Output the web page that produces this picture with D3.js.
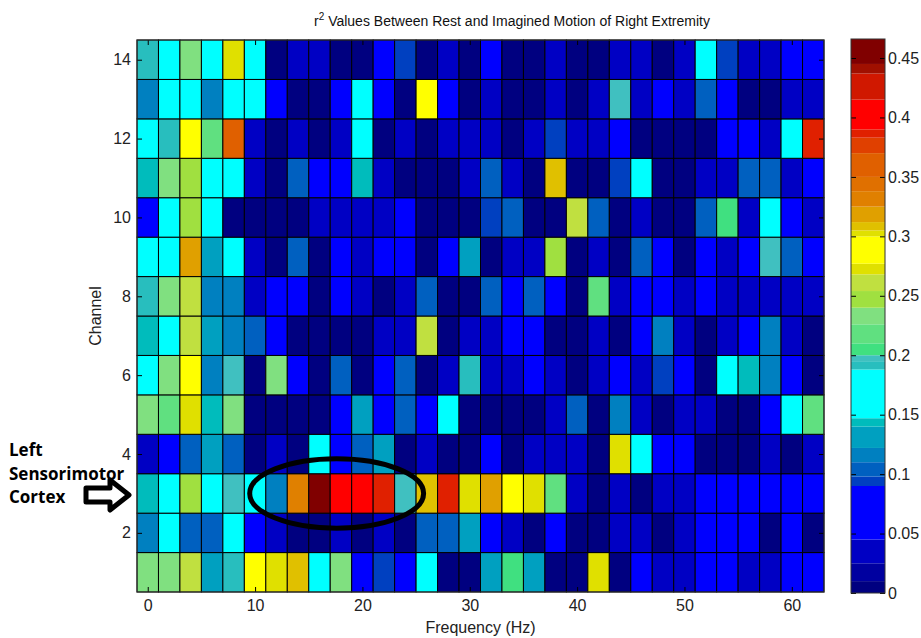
<!DOCTYPE html>
<html>
<head>
<meta charset="utf-8">
<script src="https://cdn.jsdelivr.net/npm/d3@7"></script>
<style>
  body { margin: 0; background: #fff; }
  svg { display: block; font-family: "Liberation Sans", Arial, sans-serif; }
</style>
</head>
<body>
<main></main>
<script>
// Frequency bins (Hz) and channel numbers.
const frequencies = [0, 2, 4, 6, 8, 10, 12, 14, 16, 18, 20, 22, 24, 26, 28, 30,
  32, 34, 36, 38, 40, 42, 44, 46, 48, 50, 52, 54, 56, 58, 60, 62];
const channels = [1, 2, 3, 4, 5, 6, 7, 8, 9, 10, 11, 12, 13, 14];

// r^2 per channel, one value per frequency bin.
const ch14 = [0.191, 0.168, 0.232, 0.171, 0.272, 0.163, 0.004, 0.033, 0.036, 0.006, 0.005, 0.062, 0.094, 0.003, 0.034, 0.007,
  0.066, 0.005, 0.006, 0.037, 0.004, 0.006, 0.032, 0.035, 0.005, 0.036, 0.170, 0.093, 0.031, 0.034, 0.061, 0.064];
const ch13 = [0.116, 0.166, 0.172, 0.114, 0.169, 0.161, 0.063, 0.005, 0.004, 0.067, 0.164, 0.060, 0.006, 0.289, 0.065, 0.007,
  0.034, 0.005, 0.004, 0.036, 0.006, 0.033, 0.197, 0.035, 0.068, 0.032, 0.103, 0.063, 0.005, 0.003, 0.031, 0.033];
const ch12 = [0.167, 0.190, 0.290, 0.219, 0.362, 0.036, 0.005, 0.033, 0.006, 0.037, 0.162, 0.005, 0.034, 0.004, 0.035, 0.038,
  0.036, 0.005, 0.033, 0.093, 0.035, 0.037, 0.064, 0.006, 0.004, 0.005, 0.006, 0.062, 0.066, 0.034, 0.168, 0.387];
const ch11 = [0.143, 0.235, 0.248, 0.170, 0.166, 0.034, 0.004, 0.104, 0.065, 0.061, 0.143, 0.036, 0.005, 0.004, 0.006, 0.033,
  0.104, 0.035, 0.005, 0.307, 0.004, 0.006, 0.093, 0.167, 0.005, 0.004, 0.034, 0.037, 0.105, 0.103, 0.033, 0.066];
const ch10 = [0.067, 0.171, 0.247, 0.165, 0.004, 0.005, 0.006, 0.004, 0.034, 0.036, 0.035, 0.037, 0.064, 0.005, 0.004, 0.006,
  0.094, 0.102, 0.005, 0.004, 0.262, 0.104, 0.006, 0.035, 0.004, 0.005, 0.103, 0.206, 0.034, 0.169, 0.063, 0.035];
const ch9 = [0.167, 0.164, 0.318, 0.131, 0.170, 0.035, 0.005, 0.105, 0.004, 0.066, 0.036, 0.063, 0.067, 0.005, 0.062, 0.132,
  0.005, 0.035, 0.036, 0.248, 0.004, 0.034, 0.005, 0.104, 0.065, 0.006, 0.066, 0.033, 0.064, 0.197, 0.103, 0.065];
const ch8 = [0.192, 0.234, 0.262, 0.115, 0.116, 0.034, 0.064, 0.066, 0.005, 0.063, 0.035, 0.006, 0.034, 0.103, 0.004, 0.005,
  0.104, 0.065, 0.105, 0.067, 0.005, 0.219, 0.036, 0.063, 0.066, 0.034, 0.062, 0.035, 0.037, 0.033, 0.036, 0.034];
const ch7 = [0.143, 0.166, 0.261, 0.129, 0.116, 0.104, 0.065, 0.005, 0.004, 0.006, 0.005, 0.035, 0.033, 0.262, 0.004, 0.036,
  0.034, 0.064, 0.066, 0.005, 0.004, 0.036, 0.006, 0.063, 0.116, 0.035, 0.005, 0.034, 0.065, 0.114, 0.033, 0.005];
const ch6 = [0.163, 0.233, 0.290, 0.115, 0.197, 0.004, 0.232, 0.064, 0.005, 0.103, 0.006, 0.066, 0.104, 0.005, 0.035, 0.190,
  0.034, 0.036, 0.064, 0.035, 0.004, 0.033, 0.066, 0.036, 0.093, 0.065, 0.005, 0.167, 0.143, 0.115, 0.063, 0.005];
const ch5 = [0.234, 0.218, 0.271, 0.143, 0.233, 0.004, 0.005, 0.006, 0.004, 0.064, 0.131, 0.066, 0.104, 0.063, 0.168, 0.005,
  0.004, 0.006, 0.005, 0.034, 0.103, 0.005, 0.116, 0.035, 0.004, 0.036, 0.034, 0.005, 0.006, 0.065, 0.170, 0.219];
const ch4 = [0.034, 0.065, 0.104, 0.130, 0.103, 0.005, 0.035, 0.004, 0.166, 0.064, 0.105, 0.131, 0.005, 0.034, 0.006, 0.004,
  0.066, 0.005, 0.036, 0.034, 0.035, 0.005, 0.271, 0.168, 0.064, 0.063, 0.005, 0.004, 0.006, 0.035, 0.005, 0.036];
const ch3 = [0.143, 0.169, 0.248, 0.167, 0.197, 0.164, 0.116, 0.331, 0.460, 0.404, 0.401, 0.387, 0.197, 0.307, 0.386, 0.272,
  0.319, 0.290, 0.271, 0.218, 0.035, 0.005, 0.034, 0.004, 0.036, 0.035, 0.064, 0.066, 0.063, 0.065, 0.067, 0.064];
const ch2 = [0.115, 0.167, 0.104, 0.103, 0.165, 0.064, 0.034, 0.005, 0.004, 0.036, 0.005, 0.035, 0.006, 0.104, 0.103, 0.131,
  0.065, 0.034, 0.005, 0.063, 0.004, 0.006, 0.035, 0.036, 0.005, 0.034, 0.066, 0.064, 0.065, 0.005, 0.063, 0.004];
const ch1 = [0.233, 0.234, 0.261, 0.130, 0.191, 0.289, 0.271, 0.308, 0.166, 0.232, 0.064, 0.093, 0.066, 0.168, 0.005, 0.004,
  0.131, 0.206, 0.130, 0.005, 0.004, 0.270, 0.005, 0.064, 0.034, 0.036, 0.065, 0.063, 0.035, 0.034, 0.066, 0.064];
const rows = [ch1, ch2, ch3, ch4, ch5, ch6, ch7, ch8, ch9, ch10, ch11, ch12, ch13, ch14];

const xTicks = [0, 10, 20, 30, 40, 50, 60];
const yTicks = [2, 4, 6, 8, 10, 12, 14];
const colorTicks = [0, 0.05, 0.1, 0.15, 0.2, 0.25, 0.3, 0.35, 0.4, 0.45];
const colorTickLabels = ["0", "0.05", "0.1", "0.15", "0.2", "0.25", "0.3", "0.35", "0.4", "0.45"];
const C_MAX = 0.466;

// Jet-like banded palette, as the picture renders it.
const bandBreaks = [0.01, 0.025, 0.045, 0.09, 0.098, 0.11, 0.122, 0.14, 0.147, 0.188, 0.195, 0.2,
  0.21, 0.226, 0.24, 0.254, 0.268, 0.277, 0.3, 0.305, 0.312, 0.325, 0.338, 0.35, 0.37, 0.383,
  0.39, 0.415, 0.437, 0.445];
const bandColors = ["#000080", "#0000a0", "#0000c4", "#0000ff", "#0040c0", "#0060c0", "#0080c0",
  "#00a0c0", "#00bcbc", "#00ffff", "#28bebe", "#40c0c0", "#40e080", "#60e080", "#80e080",
  "#a0e040", "#c0e040", "#e0e000", "#ffff00", "#e0e000", "#e0c000", "#e0a000", "#e08000",
  "#e07000", "#e06000", "#e04000", "#e02000", "#ff0000", "#d01800", "#a01000", "#800000"];

const W = 921, H = 638;
const svg = d3.create("svg").attr("width", W).attr("height", H);
document.querySelector("main").append(svg.node());

const x = d3.scaleLinear().domain([-1, 63]).range([137, 824]);
const y = d3.scaleLinear().domain([0.5, 14.5]).range([592, 40]);
const color = d3.scaleThreshold().domain(bandBreaks).range(bandColors);

const cells = [];
channels.forEach((c, i) => {
  frequencies.forEach((f, j) => cells.push({ f, c, v: rows[i][j] }));
});

svg.append("g")
  .selectAll("rect")
  .data(cells)
  .join("rect")
  .attr("x", (d) => x(d.f - 1))
  .attr("y", (d) => y(d.c + 0.5))
  .attr("width", (d) => x(d.f + 1) - x(d.f - 1))
  .attr("height", (d) => y(d.c - 0.5) - y(d.c + 0.5))
  .attr("fill", (d) => color(d.v))
  .attr("stroke", "#000")
  .attr("stroke-width", 1);

// Axes with inward ticks, MATLAB style.
const axisFont = (g) => g.selectAll("text").attr("font-size", 16).attr("fill", "#222");
svg.append("g")
  .attr("transform", `translate(0,${y.range()[0]})`)
  .call(d3.axisBottom(x).tickValues(xTicks).tickSize(-5).tickPadding(8))
  .call((g) => g.select(".domain").remove())
  .call(axisFont);
svg.append("g")
  .attr("transform", `translate(${x.range()[0]},0)`)
  .call(d3.axisLeft(y).tickValues(yTicks).tickSize(-5).tickPadding(6))
  .call((g) => g.select(".domain").remove())
  .call(axisFont);
svg.append("g")
  .attr("transform", `translate(0,${y.range()[1]})`)
  .call(d3.axisTop(x).tickValues(xTicks).tickSize(-5).tickFormat(""))
  .call((g) => g.select(".domain").remove());
svg.append("g")
  .attr("transform", `translate(${x.range()[1]},0)`)
  .call(d3.axisRight(y).tickValues(yTicks).tickSize(-5).tickFormat(""))
  .call((g) => g.select(".domain").remove());

svg.append("rect")
  .attr("x", x.range()[0]).attr("y", y.range()[1])
  .attr("width", x.range()[1] - x.range()[0])
  .attr("height", y.range()[0] - y.range()[1])
  .attr("fill", "none").attr("stroke", "#333").attr("stroke-width", 1);

// Title
const title = svg.append("text")
  .attr("x", 512)
  .attr("y", 26)
  .attr("text-anchor", "middle")
  .attr("font-size", 14)
  .attr("fill", "#111");
title.append("tspan").text("r");
title.append("tspan").attr("dy", -6).attr("font-size", 10).text("2");
title.append("tspan").attr("dy", 6).text(" Values Between Rest and Imagined Motion of Right Extremity");

svg.append("text")
  .attr("x", (x.range()[0] + x.range()[1]) / 2)
  .attr("y", 633)
  .attr("text-anchor", "middle")
  .attr("font-size", 16)
  .attr("fill", "#222")
  .text("Frequency (Hz)");

svg.append("text")
  .attr("transform", `translate(101,${(y.range()[0] + y.range()[1]) / 2}) rotate(-90)`)
  .attr("text-anchor", "middle")
  .attr("font-size", 16)
  .attr("fill", "#222")
  .text("Channel");

// Colorbar
const cy = d3.scaleLinear().domain([0, C_MAX]).range([593, 39]);
const CB_X0 = 851, CB_X1 = 885;
const bands = bandColors.map((col, i) => ({
  lo: i === 0 ? 0 : bandBreaks[i - 1],
  hi: i === bandBreaks.length ? C_MAX : bandBreaks[i],
  col,
}));
svg.append("g")
  .selectAll("rect")
  .data(bands)
  .join("rect")
  .attr("x", CB_X0)
  .attr("y", (d) => cy(d.hi))
  .attr("width", CB_X1 - CB_X0)
  .attr("height", (d) => cy(d.lo) - cy(d.hi))
  .attr("fill", (d) => d.col);

svg.append("g")
  .attr("transform", `translate(${CB_X1},0)`)
  .call(d3.axisRight(cy).tickValues(colorTicks).tickSize(-5).tickPadding(3)
    .tickFormat((d, i) => colorTickLabels[i]))
  .call((g) => g.select(".domain").remove())
  .call(axisFont);
svg.append("g")
  .attr("transform", `translate(${CB_X0},0)`)
  .call(d3.axisLeft(cy).tickValues(colorTicks).tickSize(-5).tickFormat(""))
  .call((g) => g.select(".domain").remove());
svg.append("rect")
  .attr("x", CB_X0).attr("y", cy.range()[1])
  .attr("width", CB_X1 - CB_X0).attr("height", cy.range()[0] - cy.range()[1])
  .attr("fill", "none").attr("stroke", "#333").attr("stroke-width", 1);

// Annotation: ellipse around channel 3's strongest bins, plus arrow and label.
svg.append("ellipse")
  .attr("cx", x(17.6))
  .attr("cy", y(3))
  .attr("rx", x(17.6 + 8.1) - x(17.6))
  .attr("ry", y(3 - 0.88) - y(3))
  .attr("fill", "none")
  .attr("stroke", "#000")
  .attr("stroke-width", 5);

const labelLines = ["Left", "Sensorimotor", "Cortex"];
svg.append("g")
  .selectAll("text")
  .data(labelLines)
  .join("text")
  .attr("x", 9)
  .attr("y", (d, i) => 456 + i * 23.5)
  .attr("font-family", "'Open Sans', 'Noto Sans', sans-serif")
  .attr("font-weight", 700)
  .attr("font-size", 17)
  .attr("fill", "#000")
  .text((d) => d);

const ay = 495;
svg.append("path")
  .attr("d", `M86,${ay - 7} L110,${ay - 7} L110,${ay - 15} L129,${ay} L110,${ay + 15} L110,${ay + 7} L86,${ay + 7} Z`)
  .attr("fill", "#fff")
  .attr("stroke", "#000")
  .attr("stroke-width", 5)
  .attr("stroke-linejoin", "round");
</script>
</body>
</html>
